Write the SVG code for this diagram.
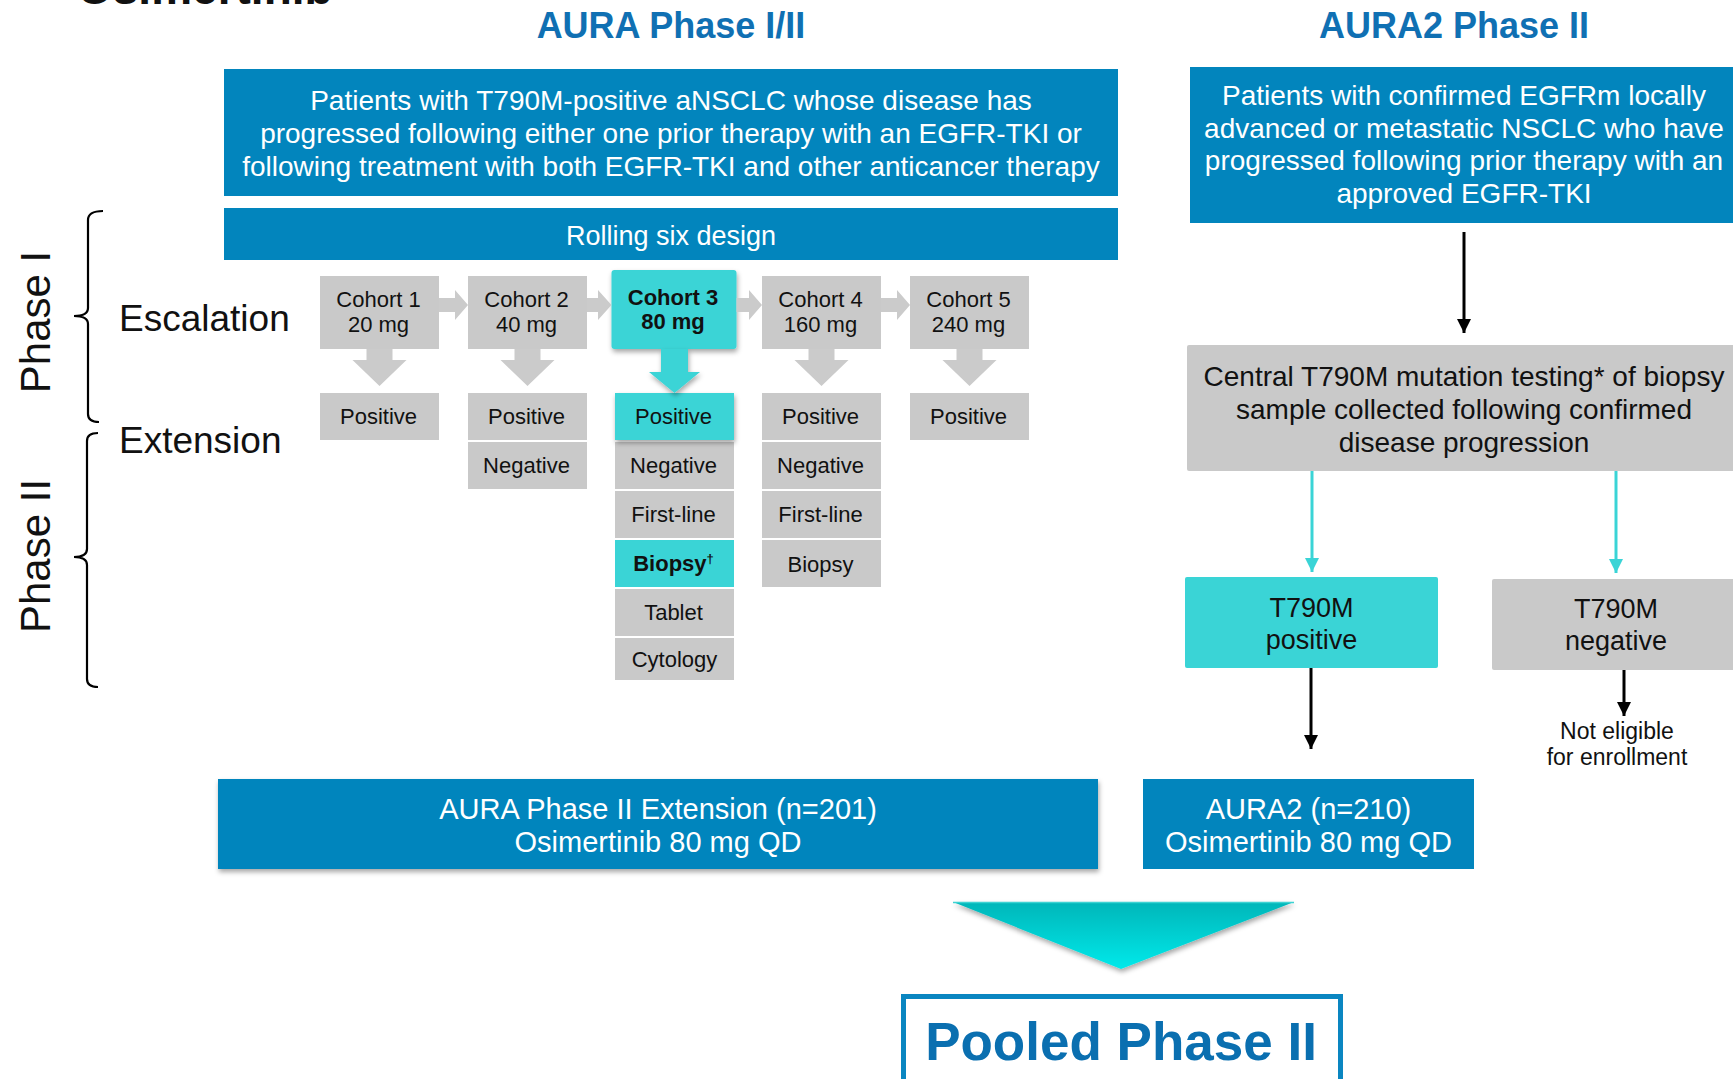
<svg xmlns="http://www.w3.org/2000/svg" width="1733" height="1079" viewBox="0 0 1733 1079">
  <defs>
    <style>
      text { font-family: "Liberation Sans", Arial, sans-serif; }
      .blue { fill: #0285BD; }
      .gray { fill: #C9C9C9; }
      .cyan { fill: #3AD4D6; }
      .wt { fill: #FFFFFF; text-anchor: middle; }
      .bk { fill: #111111; text-anchor: middle; }
      .hd { fill: #1070B3; font-weight: bold; text-anchor: middle; font-size: 36px; }
      .cell { font-size: 22px; }
      .big { font-size: 28px; }
      .ln { stroke: #000; stroke-width: 3; fill: none; }
      .cl { stroke: #3AD4D6; stroke-width: 3; fill: none; }
      .brace { stroke: #000; stroke-width: 2.2; fill: none; }
      .garrow { fill: #CBCBCB; }
    </style>
    <marker id="headBlack" viewBox="0 0 14 14" refX="14" refY="7" markerWidth="14" markerHeight="14" markerUnits="userSpaceOnUse" orient="auto">
      <path d="M0,0 L14,7 L0,14 z" fill="#000"/>
    </marker>
    <marker id="headCyan" viewBox="0 0 14 14" refX="14" refY="7" markerWidth="14" markerHeight="14" markerUnits="userSpaceOnUse" orient="auto">
      <path d="M0,0 L14,7 L0,14 z" fill="#3AD4D6"/>
    </marker>
    <filter id="shadow" x="-20%" y="-20%" width="140%" height="150%">
      <feDropShadow dx="1" dy="3" stdDeviation="2.5" flood-color="#000" flood-opacity="0.35"/>
    </filter>
    <linearGradient id="triFill" x1="0" y1="0" x2="0" y2="1">
      <stop offset="0" stop-color="#00B6B9"/>
      <stop offset="1" stop-color="#00E9EA"/>
    </linearGradient>
  </defs>

  <rect width="1733" height="1079" fill="#FFFFFF"/>

  <!-- slide title, clipped by the top edge -->
  <text x="77" y="4" font-size="46" font-weight="bold" fill="#111">Osimertinib</text>

  <!-- column headings -->
  <text class="hd" x="671" y="38">AURA Phase I/II</text>
  <text class="hd" x="1454" y="38">AURA2 Phase II</text>

  <!-- phase labels and braces -->
  <g id="phase-labels">
    <text transform="translate(50,322) rotate(-90)" font-size="42" fill="#111" text-anchor="middle">Phase I</text>
    <text transform="translate(50,556) rotate(-90)" font-size="42" fill="#111" text-anchor="middle">Phase II</text>
    <path class="brace" d="M103,211 Q88,211 88,220 L88,308 Q88,316 74,316 Q88,316 88,324 L88,414 Q88,422 99,422"/>
    <path class="brace" d="M98,433 Q87,433 87,441 L87,549 Q87,557 74,557 Q87,557 87,565 L87,679 Q87,687 98,687"/>
    <text x="119" y="331" font-size="37" fill="#111">Escalation</text>
    <text x="119" y="453" font-size="37" fill="#111">Extension</text>
  </g>

  <!-- AURA population -->
  <g id="aura-population">
    <rect class="blue" x="224" y="69" width="894" height="127"/>
    <text class="wt big" x="671" y="110">Patients with T790M-positive aNSCLC whose disease has</text>
    <text class="wt big" x="671" y="143">progressed following either one prior therapy with an EGFR-TKI or</text>
    <text class="wt big" x="671" y="176">following treatment with both EGFR-TKI and other anticancer therapy</text>
  </g>

  <g id="rolling-six">
    <rect class="blue" x="224" y="208" width="894" height="52"/>
    <text class="wt" x="671" y="245" font-size="27">Rolling six design</text>
  </g>

  <!-- escalation cohorts -->
  <g id="cohort1">
    <rect class="gray" x="320" y="276" width="119" height="73"/>
    <text class="bk cell" x="378.5" y="307">Cohort 1</text>
    <text class="bk cell" x="378.5" y="332">20 mg</text>
  </g>
  <g id="cohort2">
    <rect class="gray" x="468" y="276" width="119" height="73"/>
    <text class="bk cell" x="526.5" y="307">Cohort 2</text>
    <text class="bk cell" x="526.5" y="332">40 mg</text>
  </g>
  <g id="cohort3">
    <rect class="cyan" x="611.5" y="270" width="125" height="79" rx="3" filter="url(#shadow)"/>
    <text class="bk cell" x="673" y="305" font-weight="bold">Cohort 3</text>
    <text class="bk cell" x="673" y="329" font-weight="bold">80 mg</text>
  </g>
  <g id="cohort4">
    <rect class="gray" x="762" y="276" width="119" height="73"/>
    <text class="bk cell" x="820.5" y="307">Cohort 4</text>
    <text class="bk cell" x="820.5" y="332">160 mg</text>
  </g>
  <g id="cohort5">
    <rect class="gray" x="910" y="276" width="119" height="73"/>
    <text class="bk cell" x="968.5" y="307">Cohort 5</text>
    <text class="bk cell" x="968.5" y="332">240 mg</text>
  </g>

  <!-- extension cells -->
  <g id="col1-cells">
    <rect class="gray" x="320" y="393" width="119" height="47"/>
    <text class="bk cell" x="378.5" y="424">Positive</text>
  </g>
  <g id="col2-cells">
    <rect class="gray" x="468" y="393" width="119" height="47"/>
    <text class="bk cell" x="526.5" y="424">Positive</text>
    <rect class="gray" x="468" y="442" width="119" height="47"/>
    <text class="bk cell" x="526.5" y="473">Negative</text>
  </g>
  <g id="col3-cells">
    <rect class="gray" x="615" y="442" width="119" height="47"/>
    <text class="bk cell" x="673.5" y="473">Negative</text>
    <rect class="gray" x="615" y="491" width="119" height="47"/>
    <text class="bk cell" x="673.5" y="522">First-line</text>
    <rect class="cyan" x="615" y="540" width="119" height="47"/>
    <text class="bk cell" x="673.5" y="571" font-weight="bold">Biopsy<tspan font-size="13" dy="-8">†</tspan></text>
    <rect class="gray" x="615" y="589" width="119" height="47"/>
    <text class="bk cell" x="673.5" y="620">Tablet</text>
    <rect class="gray" x="615" y="638" width="119" height="42"/>
    <text class="bk cell" x="674.5" y="667">Cytology</text>
    <rect class="cyan" x="615" y="393" width="119" height="47" filter="url(#shadow)"/>
    <text class="bk cell" x="673.5" y="424">Positive</text>
  </g>
  <g id="col4-cells">
    <rect class="gray" x="762" y="393" width="119" height="47"/>
    <text class="bk cell" x="820.5" y="424">Positive</text>
    <rect class="gray" x="762" y="442" width="119" height="47"/>
    <text class="bk cell" x="820.5" y="473">Negative</text>
    <rect class="gray" x="762" y="491" width="119" height="47"/>
    <text class="bk cell" x="820.5" y="522">First-line</text>
    <rect class="gray" x="762" y="540" width="119" height="47"/>
    <text class="bk cell" x="820.5" y="572">Biopsy</text>
  </g>
  <g id="col5-cells">
    <rect class="gray" x="910" y="393" width="119" height="47"/>
    <text class="bk cell" x="968.5" y="424">Positive</text>
  </g>

  <!-- AURA2 population -->
  <g id="aura2-population">
    <rect class="blue" x="1190" y="67" width="560" height="156"/>
    <text class="wt big" x="1464" y="105">Patients with confirmed EGFRm locally</text>
    <text class="wt big" x="1464" y="137.5">advanced or metastatic NSCLC who have</text>
    <text class="wt big" x="1464" y="170">progressed following prior therapy with an</text>
    <text class="wt big" x="1464" y="202.5">approved EGFR-TKI</text>
  </g>

  <g id="central-testing">
    <rect class="gray" x="1187" y="345" width="560" height="126" rx="2"/>
    <text class="bk big" x="1464" y="386">Central T790M mutation testing* of biopsy</text>
    <text class="bk big" x="1464" y="419">sample collected following confirmed</text>
    <text class="bk big" x="1464" y="452">disease progression</text>
  </g>

  <g id="t790m-positive">
    <rect class="cyan" x="1185" y="577" width="253" height="91" rx="2"/>
    <text class="bk" x="1311.5" y="617" font-size="27">T790M</text>
    <text class="bk" x="1311.5" y="649" font-size="27">positive</text>
  </g>

  <g id="t790m-negative">
    <rect class="gray" x="1492" y="579" width="260" height="91" rx="2"/>
    <text class="bk" x="1616" y="618" font-size="27">T790M</text>
    <text class="bk" x="1616" y="650" font-size="27">negative</text>
  </g>

  <g id="not-eligible">
    <text class="bk" x="1617" y="739" font-size="23">Not eligible</text>
    <text class="bk" x="1617" y="765" font-size="23">for enrollment</text>
  </g>

  <!-- phase II arms -->
  <g id="aura-extension">
    <rect class="blue" x="218" y="779" width="880" height="90" filter="url(#shadow)"/>
    <text class="wt" x="658" y="819" font-size="29">AURA Phase II Extension (n=201)</text>
    <text class="wt" x="658" y="852" font-size="29">Osimertinib 80 mg QD</text>
  </g>

  <g id="aura2-arm">
    <rect class="blue" x="1143" y="779" width="331" height="90"/>
    <text class="wt" x="1308.5" y="819" font-size="29">AURA2 (n=210)</text>
    <text class="wt" x="1308.5" y="852" font-size="29">Osimertinib 80 mg QD</text>
  </g>

  <g id="pooled">
    <rect x="903.5" y="996.5" width="437" height="110" fill="#FFFFFF" stroke="#0A86C1" stroke-width="5"/>
    <text x="1121" y="1060" font-size="53" font-weight="bold" fill="#0A6FB0" text-anchor="middle">Pooled Phase II</text>
  </g>

  <!-- connectors -->
  <g id="connectors">
    <!-- escalation steps -->
    <polygon class="garrow" points="439,298 455,298 455,290 468,305 455,320 455,312 439,312"/>
    <polygon class="garrow" points="587,298 598,298 598,290 611.5,305 598,320 598,312 587,312"/>
    <polygon class="garrow" points="736.5,298 749,298 749,290 762,305 749,320 749,312 736.5,312"/>
    <polygon class="garrow" points="881,298 897,298 897,290 910,305 897,320 897,312 881,312"/>

    <!-- cohort to extension -->
    <polygon class="garrow" points="366.5,349 392.5,349 392.5,360 406.5,360 379.5,386 352.5,360 366.5,360"/>
    <polygon class="garrow" points="514.5,349 540.5,349 540.5,360 554.5,360 527.5,386 500.5,360 514.5,360"/>
    <polygon class="garrow" points="808.5,349 834.5,349 834.5,360 848.5,360 821.5,386 794.5,360 808.5,360"/>
    <polygon class="garrow" points="956.5,349 982.5,349 982.5,360 996.5,360 969.5,386 942.5,360 956.5,360"/>
    <polygon class="cyan" filter="url(#shadow)" points="661,349 688,349 688,372 700,372 674.5,393 649,372 661,372"/>

    <!-- AURA2 flow -->
    <line class="ln" x1="1464" y1="232" x2="1464" y2="333" marker-end="url(#headBlack)"/>
    <line class="cl" x1="1312" y1="471" x2="1312" y2="572" marker-end="url(#headCyan)"/>
    <line class="cl" x1="1616" y1="471" x2="1616" y2="573" marker-end="url(#headCyan)"/>
    <line class="ln" x1="1311" y1="668" x2="1311" y2="749" marker-end="url(#headBlack)"/>
    <line class="ln" x1="1624" y1="670" x2="1624" y2="716" marker-end="url(#headBlack)"/>

    <!-- merge into pooled analysis -->
    <polygon points="953,902 1294,902 1121,969" fill="url(#triFill)" filter="url(#shadow)"/>
    <line x1="953" y1="902.5" x2="1294" y2="902.5" stroke="#3CD3D3" stroke-width="1.5"/>
  </g>
</svg>
